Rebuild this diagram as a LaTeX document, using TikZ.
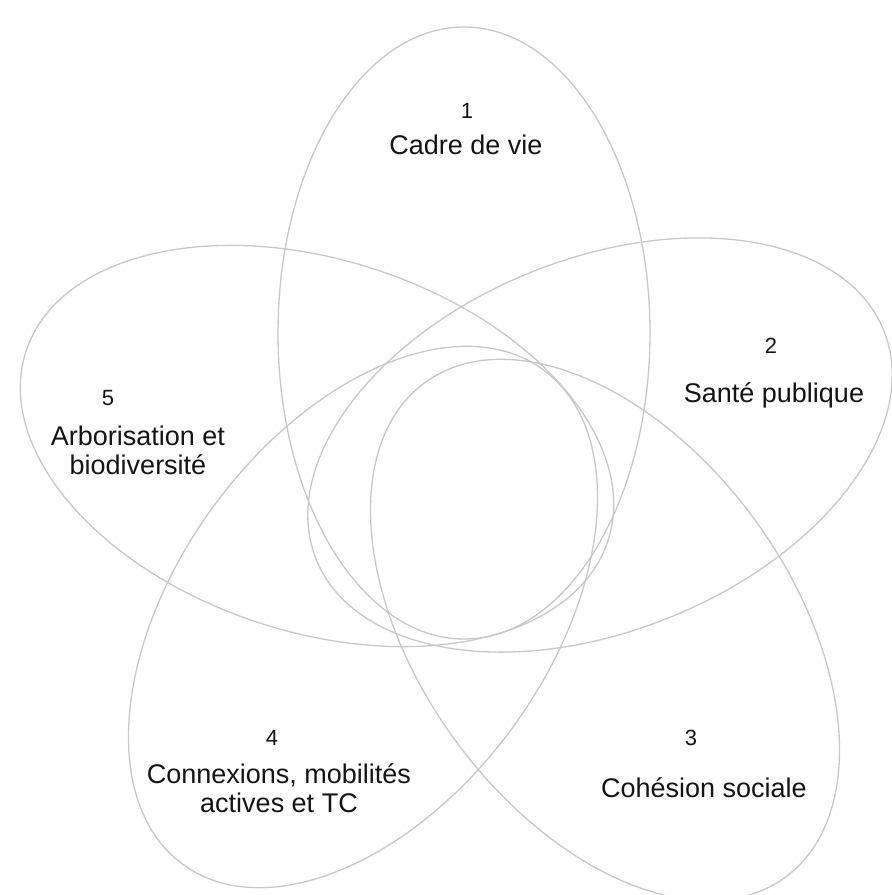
\documentclass[tikz,border=0pt]{standalone}
\usepackage{fontspec}
\setmainfont{Liberation Sans}
\definecolor{petalgray}{RGB}{200,200,200}
\definecolor{ink}{RGB}{20,20,20}
\begin{document}
\begin{tikzpicture}[x=1pt, y=-1pt,
    petal/.style={draw=petalgray, line width=1.3pt},
    num/.style={text=ink, font=\fontsize{22}{24}\selectfont, inner sep=0pt, anchor=base},
    lab/.style={text=ink, font=\fontsize{27}{28.5}\selectfont, align=center, inner sep=0pt, anchor=base}]
    \useasboundingbox (0,0) rectangle (892,895);

    % 五个椭圆
    \draw[petal] (464,333) ellipse [x radius=186, y radius=306];
    \draw[petal, rotate around={-68:(600,445)}] (600,445) ellipse [x radius=186, y radius=306];
    \draw[petal, rotate around={-144:(605,630)}] (605,630) ellipse [x radius=186, y radius=306];
    \draw[petal, rotate around={144:(363,617)}] (363,617) ellipse [x radius=186, y radius=306];
    \draw[petal, rotate around={72:(317,446)}] (317,446) ellipse [x radius=186, y radius=306];

    % 编号和标题
    \node[num] (n1) at (467,118) {1};
    \node[lab] (t1) at (466,154) {Cadre de vie};
    \node[num] (n2) at (771,353) {2};
    \node[lab] (t2) at (774,402) {Santé publique};
    \node[num] (n3) at (691,745) {3};
    \node[lab] (t3) at (704,797) {Cohésion sociale};
    \node[num] (n4) at (272,745) {4};
    \node[lab] (t4) at (279,812) {Connexions, mobilités\\actives et TC};
    \node[num] (n5) at (108,405) {5};
    \node[lab] (t5) at (138,474) {Arborisation et\\biodiversité};
\end{tikzpicture}
\end{document}
